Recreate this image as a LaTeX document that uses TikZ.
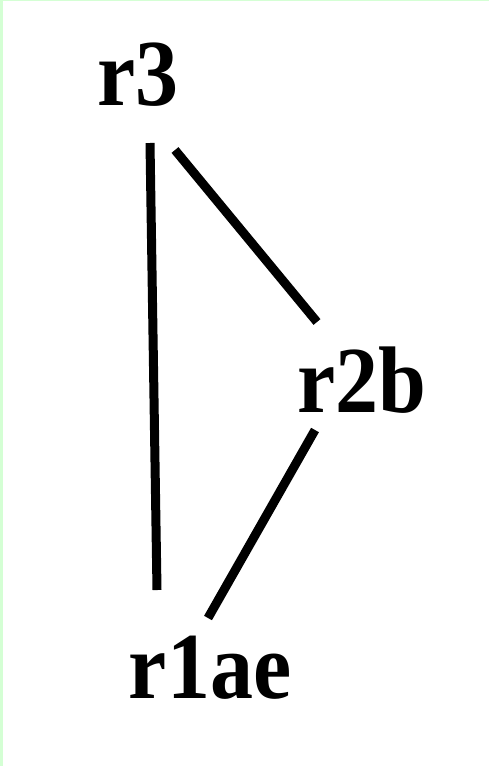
\documentclass[tikz,border=0pt]{standalone}
\usepackage{fontspec}
\setmainfont{Liberation Serif}
\usetikzlibrary{calc}
\definecolor{PaleGreen}{HTML}{D4FFD4}
\tikzset{
  rel/.style={font=\bfseries\fontsize{43}{50}\selectfont, inner sep=0pt, anchor=base},
  tie/.style={line width=4.5pt, draw=black},
}
\begin{document}
\begin{tikzpicture}[x=0.5pt,y=-0.5pt]
  % frame
  \fill[PaleGreen] (0,0) rectangle (489,766);
  \fill[white] (3,1) rectangle (489,766);
  \useasboundingbox (0,0) rectangle (489,766);
  % relations
  \node[rel,yscale=1.1] (r3) at (138,105) {r3};
  \node[rel,yscale=1.1] (r2b) at (362,412) {r2b};
  \node[rel,yscale=1.1] (r1ae) at (210,698) {r1ae};
  % links
  \draw[tie] ([shift={(12,38)}]r3.base) -- ([shift={(-53,-108)}]r1ae.base);
  \draw[tie] ([shift={(37,45)}]r3.base) -- ([shift={(-45,-90)}]r2b.base);
  \draw[tie] ([shift={(-47,18)}]r2b.base) -- ([shift={(-2,-80)}]r1ae.base);
\end{tikzpicture}
\end{document}
